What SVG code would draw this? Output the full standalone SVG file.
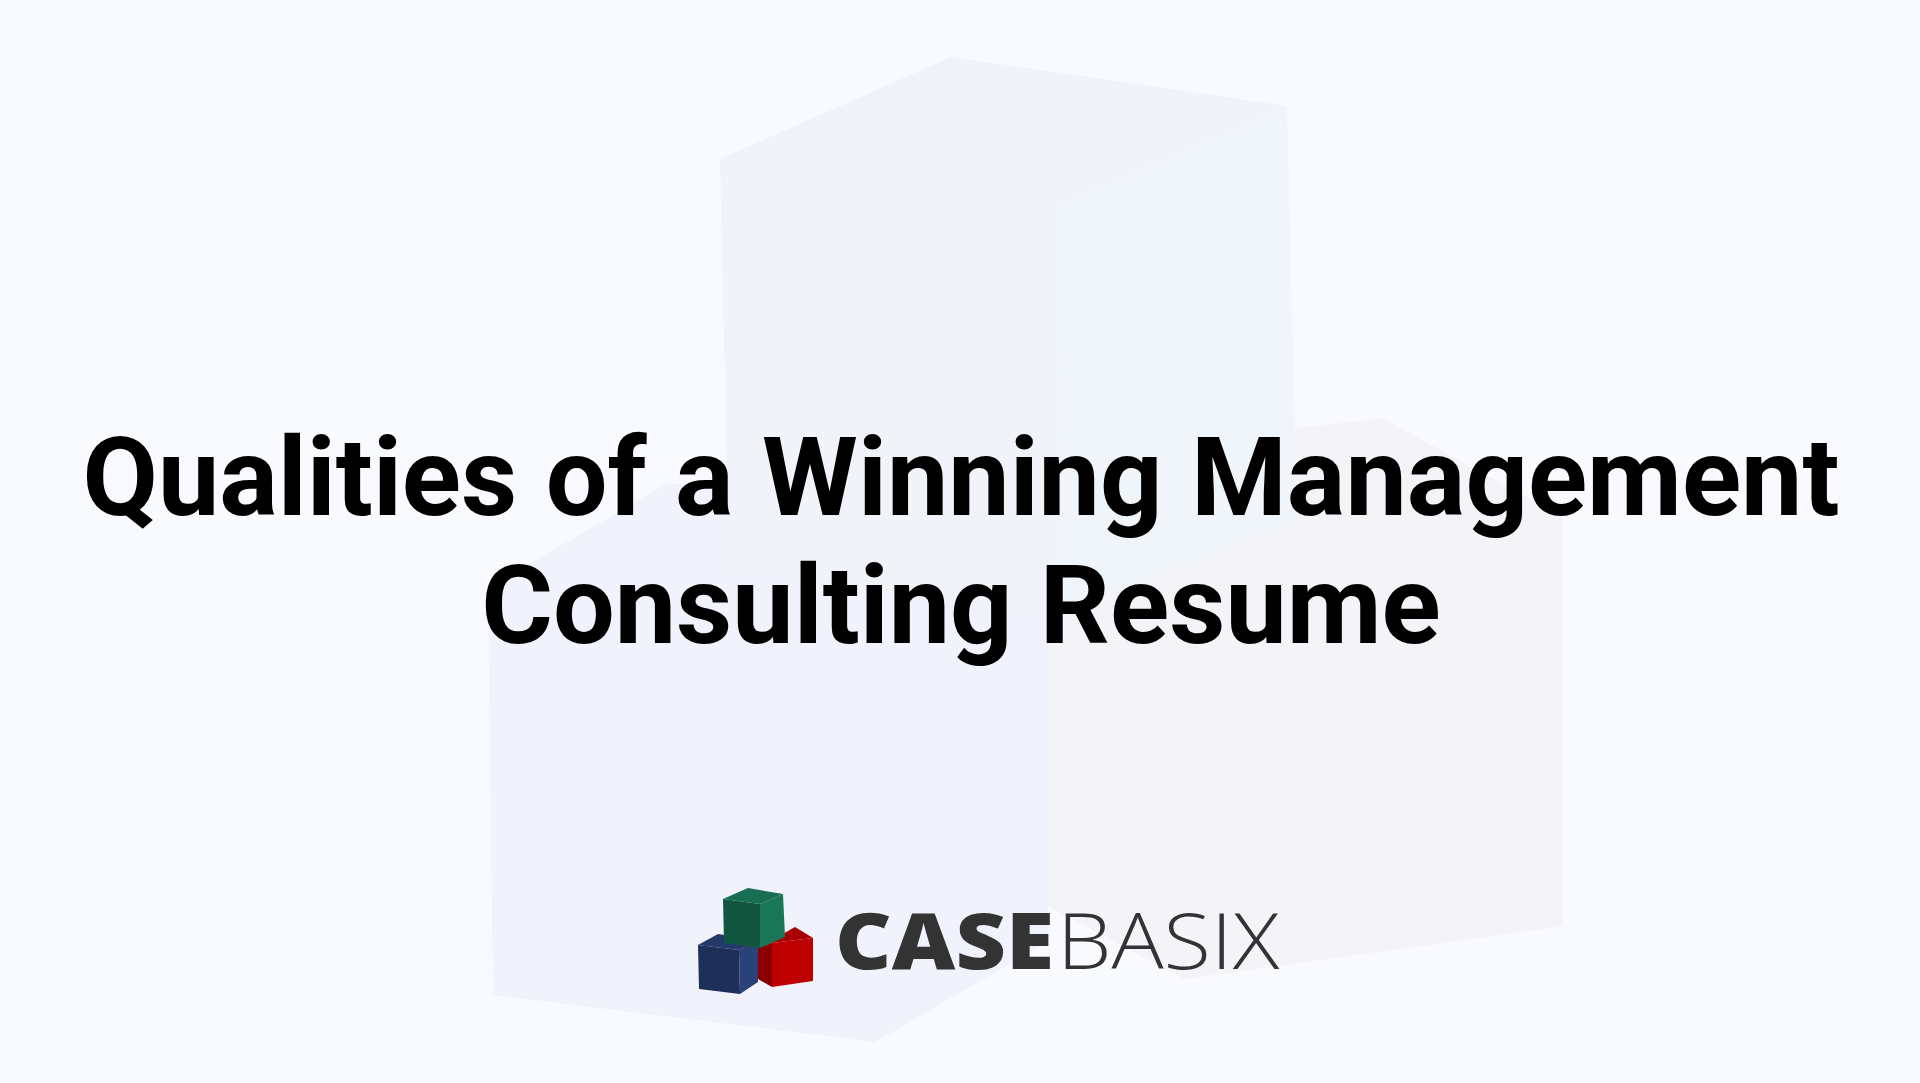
<svg xmlns="http://www.w3.org/2000/svg" width="1920" height="1083" viewBox="0 0 1920 1083">
<style>
.t{font-family:Roboto,"Liberation Sans",sans-serif;font-weight:700;font-size:109.5px;fill:#000;text-anchor:middle}
.l{font-family:"Open Sans","Noto Sans",sans-serif;font-size:77.5px;fill:#333}
</style>
<rect width="1920" height="1083" fill="#f8faff"/>
<g id="watermark">
<polygon points="1040,460 1382,418 1563,517 1563,926 1184,979 1048,906" fill="#f4f3f8"/>
<polygon points="488,588 668,483 1048,525 1048,942 875,1042 493,995" fill="#f0f3fb"/>
<polygon points="720,159 1056,205 1059,615 729,568" fill="#f0f4f9"/>
<polygon points="1056,205 1287,106 1297,522 1059,615" fill="#f0f5fa"/>
<polygon points="720,159 951,57 1287,106 1056,205" fill="#f0f3fa"/>
</g>
<g id="logo">
<polygon points="758,948 795,927 813,938 772,943" fill="#a80000"/>
<polygon points="758,948 772,943 772,987 758,979" fill="#8a0000"/>
<polygon points="772,943 813,938 813,981 772,987" fill="#bf0000"/>
<polygon points="698,945 718,934 758,940 739,950" fill="#24386a"/>
<polygon points="698,945 739,950 740,994 699,989" fill="#1e3059"/>
<polygon points="739,950 758,939 758,982 740,994" fill="#2a4277"/>
<polygon points="723,899 748,888 783,894 760,904" fill="#176e52"/>
<polygon points="723,899 760,904 760,948 724,943" fill="#125640"/>
<polygon points="760,904 783,894 785,937 760,948" fill="#197657"/>
<text class="l" transform="translate(835 969) scale(1.13 1)" font-weight="800">CASE</text>
<text class="l" transform="translate(1057 969) scale(1.12 1)" font-weight="300">BASIX</text>
</g>
<g id="title">
<text class="t" x="961" y="515" word-spacing="1.2">Qualities of a Winning Management</text>
<text class="t" x="961" y="643">Consulting Resume</text>
</g>
</svg>
